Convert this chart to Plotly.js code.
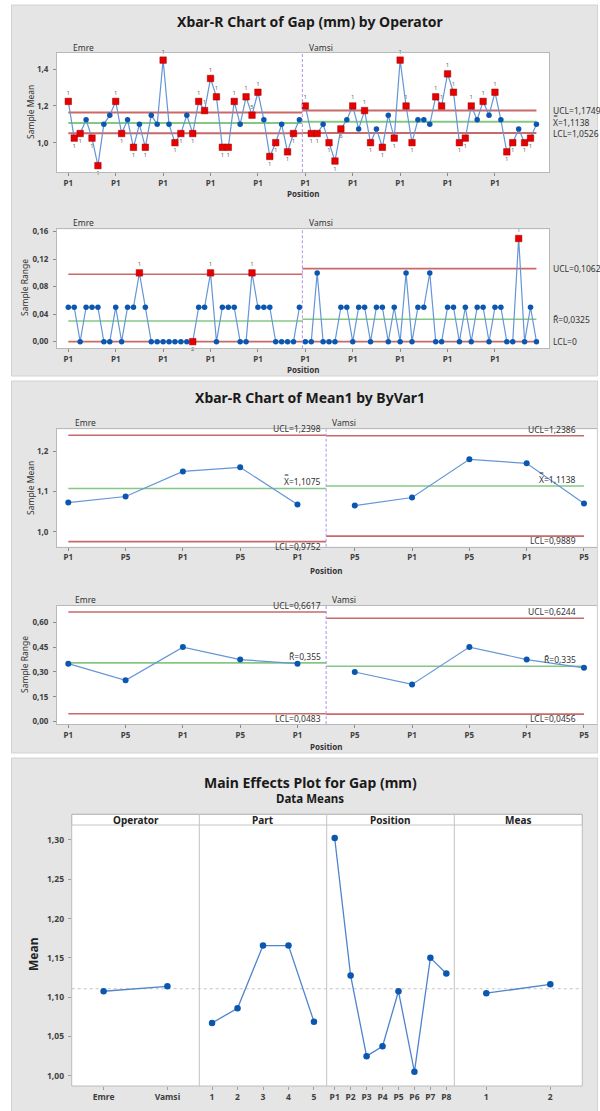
<!DOCTYPE html>
<html><head><meta charset="utf-8">
<script src="https://cdn.plot.ly/plotly-3.0.1.min.js"></script>
<style>html,body{margin:0;padding:0;background:#fff}#chart{width:600px;height:1111px}</style>
</head><body><div id="chart"></div>
<script>
// ================= DATA =================
const stageNames = ['Emre', 'Vamsi'];

// Chart 1: Xbar-R Chart of Gap (mm) by Operator (subgroup means / ranges)
const gapMeansEmre = [1.225,1.025,1.05,1.125,1.025,0.875,1.10,1.15, 1.225,1.05,1.125,0.975,1.10,0.975,1.15,1.10,
  1.45,1.10,1.00,1.05,1.15,1.05,1.225,1.175, 1.35,1.25,0.975,0.975,1.225,1.10,1.25,1.15,
  1.275,1.125,0.925,1.00,1.10,0.95,1.05,1.125];
const gapMeansVamsi = [1.20,1.05,1.05,1.10,1.00,0.90,1.075,1.125, 1.20,1.075,1.175,1.00,1.075,0.975,1.15,1.025,
  1.45,1.20,1.00,1.125,1.125,1.10,1.25,1.20, 1.375,1.275,1.00,1.025,1.20,1.125,1.225,1.15,
  1.275,1.125,0.95,1.00,1.075,1.00,1.025,1.10];
const gapMeanFlagsEmre = ['1','1','1','','1','1','','', '1','1','','1','','1','','',
  '1','','1','1','','1','1','1', '1','1','1','1','1','','1','5', '1','','1','1','','1','1',''];
const gapMeanFlagsVamsi = ['1','1','1','','1','1','6','', '1','','1','1','','1','','1',
  '1','1','1','','','','1','1', '1','1','1','1','1','','1','', '1','','1','1','','1','1',''];
const gapRangesEmre = [0.05,0.05,0,0.05,0.05,0.05,0,0, 0.05,0,0.05,0.05,0.10,0.05,0,0,
  0,0,0,0,0,0,0.05,0.05, 0.10,0,0.05,0.05,0.05,0,0,0.10, 0.05,0.05,0.05,0,0,0,0,0.05];
const gapRangesVamsi = [0,0,0.10,0,0,0,0.05,0.05, 0,0.05,0.05,0,0.05,0.05,0,0.05,
  0,0.10,0,0.05,0.05,0.10,0,0, 0.05,0.05,0,0.05,0,0.05,0.05,0, 0.05,0.05,0,0,0.15,0,0.05,0];
const gapRangeFlagsEmre = ['','','','','','','','', '','','','','1','','','', '','','','','','2','','', '1','','','','','','','1', '','','','','','','',''];
const gapRangeFlagsVamsi = ['','','','','','','','', '','','','','','','','', '','','','','','','','', '','','','','','','','', '','','','','1','','',''];
const gapTickLabels = ['P1','P1','P1','P1','P1','P1','P1','P1','P1','P1'];
const gapMeanUCL = [1.1639, 1.1749];
const gapMeanCL  = [1.1075, 1.1138];
const gapMeanLCL = [1.0511, 1.0526];
const gapRangeUCL = [0.0980, 0.1062];
const gapRangeCL  = [0.0300, 0.0325];
const gapRangeLCL = [0, 0];

// Chart 2: Xbar-R Chart of Mean1 by ByVar1
const mean1TickLabels = ['P1','P5','P1','P5','P1','P5','P1','P5','P1','P5'];
const mean1Emre  = [1.0725, 1.0875, 1.15, 1.16, 1.0675];
const mean1Vamsi = [1.065, 1.085, 1.18, 1.17, 1.07];
const range1Emre  = [0.35, 0.25, 0.45, 0.375, 0.35];
const range1Vamsi = [0.30, 0.225, 0.45, 0.375, 0.325];
const mean1UCL = [1.2398, 1.2386];
const mean1CL  = [1.1075, 1.1138];
const mean1LCL = [0.9752, 0.9889];
const range1UCL = [0.6617, 0.6244];
const range1CL  = [0.355, 0.335];
const range1LCL = [0.0483, 0.0456];

// Chart 3: Main Effects Plot for Gap (mm)
const factorNames = ['Operator', 'Part', 'Position', 'Meas'];
const operatorLevels = ['Emre', 'Vamsi'];
const operatorMeans = [1.1075, 1.1138];
const partLevels = ['1','2','3','4','5'];
const partMeans = [1.0672, 1.0859, 1.1656, 1.1656, 1.0688];
const positionLevels = ['P1','P2','P3','P4','P5','P6','P7','P8'];
const positionMeans = [1.3025, 1.1275, 1.025, 1.0375, 1.1075, 1.005, 1.15, 1.13];
const measLevels = ['1','2'];
const measMeans = [1.105, 1.1163];
const grandMean = [1.1107];

// ================= HELPERS =================
const W = 600, H = 1111;
const FONT = 'Noto Sans, sans-serif';
const px = v => v / W;
const py = v => 1 - v / H;
const xdom = (a, b) => [px(a), px(b)];
const ydom = (top, bottom) => [py(bottom), py(top)];
const fmt = v => (v === 0 ? '0' : String(parseFloat(v.toFixed(4)))).replace('.', ',');

const blueLine = '#6496d6', blueMark = '#0b57b0', redMark = '#e60000';
const limitRed = '#c96a6a', centerGreen = '#84c884';

const traces = [];
const shapes = [];
const annotations = [];

function limitLines(xa, ya, stages, ucl, cl, lcl, w) {
  let off = 0;
  stages.forEach((vals, s) => {
    const x0 = s === 0 ? 0 : off - 0.5;
    const x1 = s === stages.length - 1 ? off + vals.length - 1 : off + vals.length - 0.5;
    [[ucl[s], limitRed], [cl[s], centerGreen], [lcl[s], limitRed]].forEach(([v, c]) => {
      traces.push({type:'scatter', mode:'lines', x:[x0, x1], y:[v, v], xaxis:xa, yaxis:ya,
        line:{color:c, width:w}, hoverinfo:'skip', showlegend:false});
    });
    off += vals.length;
  });
}
function stageSeries(xa, ya, stages, flags, cls, msize) {
  let off = 0;
  stages.forEach((vals, s) => {
    const xs = vals.map((_, i) => off + i);
    traces.push({type:'scatter', mode:'lines+markers', x:xs, y:vals, xaxis:xa, yaxis:ya,
      line:{color:blueLine, width:1.2}, marker:{color:blueMark, size:msize},
      hoverinfo:'skip', showlegend:false});
    if (flags) {
      const fx = [], fy = [], ft = [], fp = [];
      vals.forEach((v, i) => {
        if (flags[s][i]) { fx.push(off + i); fy.push(v); ft.push(flags[s][i]);
          fp.push(v > cls[s] ? 'top center' : 'bottom center'); }
      });
      traces.push({type:'scatter', mode:'markers+text', x:fx, y:fy, text:ft, textposition:fp,
        textfont:{family:FONT, size:6, color:'#666'}, xaxis:xa, yaxis:ya,
        marker:{symbol:'square', color:redMark, size:6.5, line:{color:'#a00000', width:0.5}},
        hoverinfo:'skip', showlegend:false, cliponaxis:false});
    }
    off += vals.length;
  });
}
function ann(text, x, y, o) {
  o = o || {};
  annotations.push(Object.assign({text, x:px(x), y:py(y), xref:'paper', yref:'paper', showarrow:false,
    xanchor:'center', yanchor:'middle',
    font:{family:FONT, size:o.size || 8.5, color:o.color || '#333', weight:o.weight || 'normal'}}, o.extra || {}));
}

const tickFont = {family:FONT, size:8, color:'#404040', weight:'bold'};
function axis(domain, range, anchor, extra) {
  return Object.assign({domain, range, anchor, showline:true, mirror:true, linecolor:'#b8b8b8', linewidth:1,
    ticks:'outside', ticklen:3, tickcolor:'#8a8a8a', showgrid:false, zeroline:false,
    tickfont:tickFont, fixedrange:true}, extra || {});
}

// ================= CHART 1 =================
const g1Stages = [gapMeansEmre, gapMeansVamsi];
const g1Flags = [gapMeanFlagsEmre, gapMeanFlagsVamsi];
const g2Stages = [gapRangesEmre, gapRangesVamsi];
const g2Flags = [gapRangeFlagsEmre, gapRangeFlagsVamsi];
const perPart = positionLevels.length;
const g1TickVals = gapTickLabels.map((_, i) => i * perPart);

limitLines('x', 'y', g1Stages, gapMeanUCL, gapMeanCL, gapMeanLCL, 2);
stageSeries('x', 'y', g1Stages, g1Flags, gapMeanCL, 5.5);
limitLines('x2', 'y2', g2Stages, gapRangeUCL, gapRangeCL, gapRangeLCL, 1.6);
stageSeries('x2', 'y2', g2Stages, g2Flags, gapRangeCL, 5.5);

const nE = gapMeansEmre.length;
['x', 'x2'].forEach((xa, k) => {
  shapes.push({type:'line', xref:xa, yref:(k === 0 ? 'y' : 'y2') + ' domain', x0:nE - 0.5, x1:nE - 0.5, y0:0, y1:1,
    line:{color:'#b490e6', width:1, dash:'3px,2px'}});
});

// right side labels chart 1
[[gapMeanUCL, 'UCL='], [gapMeanCL, 'X\u033F='], [gapMeanLCL, 'LCL=']].forEach(([arr, lab]) => {
  annotations.push({text:lab + fmt(arr[1]), x:px(551), xref:'paper', y:arr[1], yref:'y', showarrow:false,
    xanchor:'left', yanchor:'middle', font:{family:FONT, size:8.5, color:'#333'}});
});
[[gapRangeUCL, 'UCL='], [gapRangeCL, 'R\u0304='], [gapRangeLCL, 'LCL=']].forEach(([arr, lab]) => {
  annotations.push({text:lab + fmt(arr[1]), x:px(551), xref:'paper', y:arr[1], yref:'y2', showarrow:false,
    xanchor:'left', yanchor:'middle', font:{family:FONT, size:8.5, color:'#333'}});
});

ann('Xbar-R Chart of Gap (mm) by Operator', 310, 21.5, {size:14, weight:'bold', color:'#1a1a1a'});
ann(stageNames[0], 71, 47, {extra:{xanchor:'left'}});
ann(stageNames[1], 307, 47, {extra:{xanchor:'left'}});
ann('Sample Mean', 30, 112, {extra:{textangle:-90}});
ann('Position', 303, 193, {size:8, weight:'bold'});
ann(stageNames[0], 71, 222.5, {extra:{xanchor:'left'}});
ann(stageNames[1], 307, 222.5, {extra:{xanchor:'left'}});
ann('Sample Range', 24, 288, {extra:{textangle:-90}});
ann('Position', 303, 369, {size:8, weight:'bold'});

// ================= CHART 2 =================
const m1Stages = [mean1Emre, mean1Vamsi];
const r1Stages = [range1Emre, range1Vamsi];
limitLines('x3', 'y3', m1Stages, mean1UCL, mean1CL, mean1LCL, 1.6);
stageSeries('x3', 'y3', m1Stages, null, mean1CL, 6);
limitLines('x4', 'y4', r1Stages, range1UCL, range1CL, range1LCL, 1.6);
stageSeries('x4', 'y4', r1Stages, null, range1CL, 6);
const nE2 = mean1Emre.length;
['x3', 'x4'].forEach((xa, k) => {
  shapes.push({type:'line', xref:xa, yref:(k === 0 ? 'y3' : 'y4') + ' domain', x0:nE2 - 0.5, x1:nE2 - 0.5, y0:0, y1:1,
    line:{color:'#b490e6', width:1, dash:'3px,2px'}});
});
function stageLabels(xa, ya, ucl, cl, lcl, sym) {
  const ends = [nE2 - 0.5, nE2 + mean1Vamsi.length - 1];
  const shifts = [-4, -7];
  [0, 1].forEach(s => {
    [[ucl, 'UCL=', 'bottom', 0], [cl, sym, 'bottom', 0], [lcl, 'LCL=', 'top', 2]].forEach(([arr, lab, anc, ys]) => {
      annotations.push({text:lab + fmt(arr[s]), x:ends[s], xref:xa, y:arr[s], yref:ya, showarrow:false,
        xanchor:'right', yanchor:anc, xshift:shifts[s], yshift:ys, borderpad:0,
        font:{family:FONT, size:8.5, color:'#333'}});
    });
  });
}
stageLabels('x3', 'y3', mean1UCL, mean1CL, mean1LCL, 'X\u033F=');
stageLabels('x4', 'y4', range1UCL, range1CL, range1LCL, 'R\u0304=');

ann('Xbar-R Chart of Mean1 by ByVar1', 310, 397, {size:14, weight:'bold', color:'#1a1a1a'});
ann(stageNames[0], 73, 422.7, {extra:{xanchor:'left'}});
ann(stageNames[1], 330, 422.7, {extra:{xanchor:'left'}});
ann('Sample Mean', 30, 488, {extra:{textangle:-90}});
ann('Position', 326, 570, {size:8, weight:'bold'});
ann(stageNames[0], 73, 599, {extra:{xanchor:'left'}});
ann(stageNames[1], 330, 599, {extra:{xanchor:'left'}});
ann('Sample Range', 24, 665, {extra:{textangle:-90}});
ann('Position', 326, 746, {size:8, weight:'bold'});

// ================= CHART 3 =================
const facetEdges = [71.7, 199.3, 326.7, 454.3, 582.3];
const facetData = [[operatorLevels, operatorMeans], [partLevels, partMeans], [positionLevels, positionMeans], [measLevels, measMeans]];
facetData.forEach(([lv, mv], k) => {
  traces.push({type:'scatter', mode:'lines+markers', x:lv, y:mv, xaxis:'x' + (5 + k), yaxis:'y5',
    line:{color:'#4d84cc', width:1.3}, marker:{color:blueMark, size:6.5}, hoverinfo:'skip', showlegend:false});
});
shapes.push({type:'line', xref:'paper', yref:'y5', x0:px(facetEdges[0]), x1:px(facetEdges[4]), y0:grandMean[0], y1:grandMean[0],
  line:{color:'#c4c4c4', width:1, dash:'3px,3px'}, layer:'below'});
// strip & facet frame
shapes.push({type:'rect', xref:'paper', yref:'paper', x0:px(71.7), x1:px(582.3), y0:py(825), y1:py(814.3),
  fillcolor:'#ffffff', line:{color:'#c4c4c4', width:1}});
shapes.push({type:'rect', xref:'paper', yref:'paper', x0:px(71.7), x1:px(582.3), y0:py(1086), y1:py(814.3),
  fillcolor:'rgba(0,0,0,0)', line:{color:'#bcbcbc', width:1}});
[1, 2, 3].forEach(k => shapes.push({type:'line', xref:'paper', yref:'paper', x0:px(facetEdges[k]), x1:px(facetEdges[k]),
  y0:py(1086), y1:py(814.3), line:{color:'#c4c4c4', width:1}}));
factorNames.forEach((f, k) => ann(f, (facetEdges[k] + facetEdges[k + 1]) / 2, 819.7, {size:10, weight:'bold', color:'#222'}));
ann('Main Effects Plot for Gap (mm)', 310, 782.7, {size:14, weight:'bold', color:'#1a1a1a'});
ann('Data Means', 310, 798.5, {size:11.5, weight:'bold', color:'#1a1a1a'});
ann('Mean', 33, 955, {size:12, weight:'bold', color:'#222', extra:{textangle:-90}});

// ================= PANELS =================
const whites = [[0, 0, 11, 1111], [597.5, 0, 600, 1111], [11, 0, 597.5, 5], [11, 376, 597.5, 381], [11, 753, 597.5, 758]];
whites.forEach(([a, b, c, d]) => shapes.push({type:'rect', xref:'paper', yref:'paper', x0:px(a), x1:px(c), y0:py(d), y1:py(b),
  fillcolor:'#ffffff', line:{width:0}, layer:'above'}));
[[5, 376], [381, 753], [758, 1112]].forEach(([t, b]) => shapes.push({type:'rect', xref:'paper', yref:'paper',
  x0:px(11.5), x1:px(597.5), y0:py(b), y1:py(t), line:{color:'#d2d2d2', width:1}, fillcolor:'rgba(0,0,0,0)', layer:'above'}));

// ================= LAYOUT =================
const meFacetAxis = (k, n) => ({domain:xdom(facetEdges[k], facetEdges[k + 1]), anchor:'y5', type:'category',
  range:[-0.5, n - 0.5], showline:false, ticks:'outside', ticklen:3, tickcolor:'#a0a0a0', showgrid:false,
  zeroline:false, tickfont:{family:FONT, size:8.5, color:'#404040', weight:'bold'}, fixedrange:true});

const layout = {
  width:W, height:H, margin:{l:0, r:0, t:0, b:0}, autosize:false,
  paper_bgcolor:'#e5e5e5', plot_bgcolor:'#ffffff', showlegend:false, separators:',.',
  font:{family:FONT, color:'#333'},
  xaxis: axis(xdom(57, 549), [-1.907, 81.12], 'y', {tickvals:g1TickVals, ticktext:gapTickLabels}),
  yaxis: axis(ydom(53, 172), [0.8403, 1.4888], 'x', {dtick:0.2, tick0:0, tickformat:'.1f', ticklabelstandoff:3}),
  xaxis2: axis(xdom(57, 549), [-1.907, 81.12], 'y2', {tickvals:g1TickVals, ticktext:gapTickLabels}),
  yaxis2: axis(ydom(229.3, 348.3), [-0.0097, 0.1634], 'x2', {dtick:0.04, tick0:0, tickformat:'.2f', ticklabelstandoff:3}),
  xaxis3: axis(xdom(57, 596.7), [-0.197, 9.222], 'y3', {tickvals:mean1TickLabels.map((_, i) => i), ticktext:mean1TickLabels}),
  yaxis3: axis(ydom(429.3, 546.7), [0.9627, 1.2547], 'x3', {dtick:0.1, tick0:0, tickformat:'.1f', ticklabelstandoff:3}),
  xaxis4: axis(xdom(57, 596.7), [-0.197, 9.222], 'y4', {tickvals:mean1TickLabels.map((_, i) => i), ticktext:mean1TickLabels}),
  yaxis4: axis(ydom(605.7, 724), [-0.014, 0.70], 'x4', {dtick:0.15, tick0:0, tickformat:'.2f', ticklabelstandoff:3}),
  xaxis5: meFacetAxis(0, operatorLevels.length),
  xaxis6: meFacetAxis(1, partLevels.length),
  xaxis7: meFacetAxis(2, positionLevels.length),
  xaxis8: meFacetAxis(3, measLevels.length),
  yaxis5: {domain:ydom(825, 1086), range:[0.987, 1.319], anchor:'x5', showline:false, ticks:'outside', ticklen:3,
    tickcolor:'#a0a0a0', showgrid:false, zeroline:false, dtick:0.05, tick0:0, tickformat:'.2f',
    tickfont:{family:FONT, size:8.5, color:'#404040', weight:'bold'}, fixedrange:true, ticklabelstandoff:2},
  shapes, annotations
};

Plotly.newPlot('chart', traces, layout, {displayModeBar:false, staticPlot:true});
</script></body></html>
